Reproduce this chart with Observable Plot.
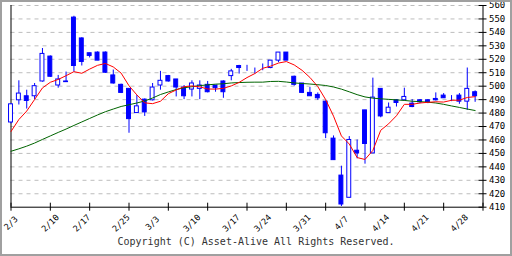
<!DOCTYPE html>
<html><head><meta charset="utf-8">
<script src="https://cdn.jsdelivr.net/npm/d3@7"></script>
<script src="https://cdn.jsdelivr.net/npm/@observablehq/plot@0.6"></script>
<style>
html,body{margin:0;padding:0;background:#fff;}
#wrap{position:relative;width:512px;height:256px;overflow:hidden;background:#fff;}
#frame{position:absolute;left:0;top:0;width:512px;height:256px;box-sizing:border-box;border:2px solid #a0a0a0;pointer-events:none;}
#cap{position:absolute;left:0;top:236px;width:512px;height:20px;line-height:20px;text-align:center;font:10px "DejaVu Sans Mono",monospace;color:#333;}
</style></head><body>
<div id="wrap"><div id="chart"></div><div id="cap">Copyright (C) Asset-Alive All Rights Reserved.</div><div id="frame"></div></div>
<script>
const dates = ["2/3","2/4","2/5","2/6","2/7","2/10","2/12","2/13","2/14","2/17","2/18","2/19","2/20","2/21","2/25","2/26","2/27","2/28","3/3","3/4","3/5","3/6","3/7","3/10","3/11","3/12","3/13","3/14","3/17","3/18","3/19","3/21","3/24","3/25","3/26","3/27","3/28","3/31","4/1","4/2","4/3","4/4","4/7","4/8","4/9","4/10","4/11","4/14","4/15","4/16","4/17","4/18","4/21","4/22","4/23","4/24","4/25","4/28","4/30","5/1"];
const open  = [473,489.5,492.5,492.5,503.5,522,500.5,503.5,551,535.5,524.5,525,525,508,501,498,480,490,489.5,500.5,507.5,505,499,497.5,498,501,500.5,503.5,507.5,515,513.5,513.5,515,513.5,519,525,507,502,495,493.5,488.5,461,433.5,417,452,482,450,498,480,489.5,489.5,487,489.5,489.5,490.5,493,491,493,488.5,495.5];
const high  = [487,504,497,502,528,522.5,508,510.5,552,536,524.5,525.5,525.5,512,501.5,498,493,490.5,502,511,508,505,500.5,504,504,503.5,500.5,504,512.5,515.5,515.5,513.5,516.5,519,525,525,507.5,502,499,495,489,463,440.5,462.5,460,482,506,498,487.5,490,498.5,490,490,490,495,494.5,493,494.5,513.5,496.5];
const low   = [472,486,483,490,503,506.5,498.5,503,510.5,515,521,519,509.5,501.5,494.5,465,480,477.5,489,497,503,492,490,492,490,495,495.5,491,504,509,511,509,511.5,513,517.5,519,500,494.5,492.5,489.5,461,445,410.5,417,446,442,450,476.5,480,484.5,489,484,487,487,489,491,488.5,486.5,482,488];
const close = [486.5,494.5,489,500,524,507,505,503,515,518,522.5,519,510,502,495,475.5,485,480.5,499,504,503.5,499,492.5,502,500.5,495.5,498.5,495.5,511,513.5,513.5,513.5,515,519,525,519,501,495,492.5,491,465,445,412,460,450,457,491.5,477.5,484,487.5,492,484.5,488,488,489.5,491,491,488.5,498,492.5];
const ma5   = [466.3,475.2,481.5,490.1,498.7,502.9,505,507.8,510.8,509.6,512.7,515.5,516.9,514.3,509.7,500.3,493.5,487.6,487,488.8,494.4,497.2,499.6,500.2,499.5,497.9,497.8,498.4,500.2,502.8,506.4,509.4,513.3,514.9,517.2,518.3,515.8,511.8,506.5,499.7,490,477.7,463,457,446.9,445.5,452.2,467.2,472,478,486.5,486.5,487.5,488,488.4,488.2,489.5,489.6,491.6,492.2];
const ma25  = [451.6,453.4,455.4,457.7,460.4,463.0,465.6,468.1,470.8,473.4,476.0,478.6,481.0,483.0,484.9,486.2,487.5,489.0,491.2,493.8,495.7,497.5,498.8,499.6,500.4,501.0,501.5,501.8,502.4,502.7,502.9,503.0,503.0,503.5,503.6,503.1,502.4,502.0,501.6,501.1,500.5,499.4,497.8,495.8,493.7,492.0,491.1,490.6,490.2,489.8,489.4,488.8,488.5,488.1,487.5,486.5,485.3,484.2,483.0,481.9];
const weekLabels = ["2/3","2/10","2/17","2/25","3/3","3/10","3/17","3/24","3/31","4/7","4/14","4/21","4/28"];
const yTicks = [410,420,430,440,450,460,470,480,490,500,510,520,530,540,550,560];

const n = dates.length;
const candles = dates.map((d,i)=>({i, date:d, o:open[i], h:high[i], l:low[i], c:close[i]}));
const maRows = dates.map((d,i)=>({i, ma5: ma5[i], ma25: ma25[i]}));
const xTicks = d3.range(0, n + 1, 5);
const labelRows = weekLabels.map(t => ({i: dates.indexOf(t), t}));

const chart = Plot.plot({
  width: 512, height: 236,
  marginLeft: 10.5, marginRight: 29.5, marginTop: 5, marginBottom: 29.3,
  style: {background: "transparent", fontFamily: "DejaVu Sans Mono, monospace"},
  x: {type: "linear", domain: [0, n], axis: null},
  y: {domain: [410, 560], axis: null},
  marks: [
    Plot.ruleY(yTicks.filter(v => v > 410), {y: d => d, x1: 0, x2: n, stroke: "#bdbdbd", strokeDasharray: "4,4"}),
    Plot.ruleX([0, n], {x: d => d, y1: 410, y2: 560, stroke: "black"}),
    Plot.ruleY([410], {y: d => d, x1: 0, x2: n, stroke: "black"}),
    Plot.ruleX(xTicks, {x: d => d, y1: 410, y2: 410, insetTop: -4, insetBottom: -4, stroke: "black"}),
    Plot.ruleY(yTicks, {y: d => d, x1: n, x2: n, insetLeft: -4, insetRight: -4, stroke: "black"}),
    Plot.ruleX(candles, {x: "i", y1: "l", y2: "h", stroke: "blue"}),
    Plot.rect(candles, {x1: d => d.i - 0.25, x2: d => d.i + 0.25, y1: "o", y2: "c", fill: d => d.c > d.o ? "white" : "blue", stroke: "blue"}),
    Plot.line(maRows, {x: "i", y: "ma25", stroke: "#006400", strokeWidth: 1}),
    Plot.line(maRows, {x: "i", y: "ma5", stroke: "red", strokeWidth: 1}),
    Plot.text(yTicks, {x: n, y: d => d, text: d => String(d), textAnchor: "start", dx: 6, fontSize: 9, fill: "black"}),
    Plot.text(labelRows, {x: "i", y: 410, text: "t", rotate: -45, dy: 16, fontSize: 8.5, fill: "black"})
  ]
});
document.getElementById("chart").appendChild(chart);
</script>
</body></html>
